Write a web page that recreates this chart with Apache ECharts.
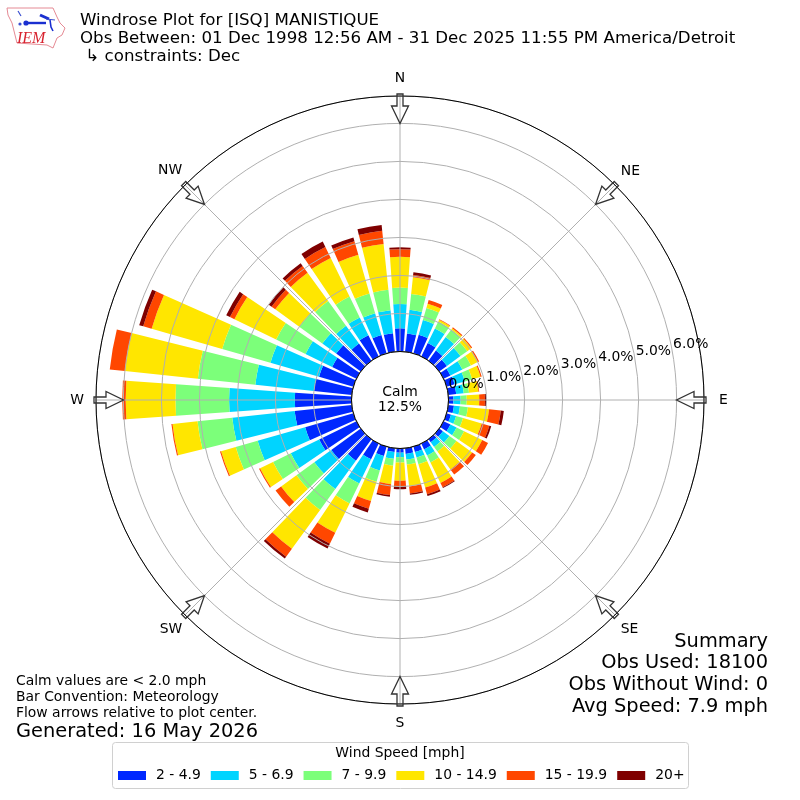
<!DOCTYPE html>
<html><head><meta charset="utf-8">
<script src="https://cdn.jsdelivr.net/npm/echarts@6/dist/echarts.min.js"></script>
<style>html,body{margin:0;padding:0;background:#fff}#c{width:800px;height:800px}</style>
</head><body><div id="c"></div>
<script>
const directions = ['0','10','20','30','40','50','60','70','80','90','100','110','120','130','140','150','160','170','180','190','200','210','220','230','240','250','260','270','280','290','300','310','320','330','340','350'];
const speedBins = ['2 - 4.9','5 - 6.9','7 - 9.9','10 - 14.9','15 - 19.9','20+'];
const binColors = ['#0028ff','#00d4ff','#7cff7a','#ffe600','#ff4700','#7f0000'];
const speed2to5 = [.61,.48,.51,.39,.33,.25,.20,.22,.21,.13,.15,.12,.20,.12,.10,.17,.15,.15,.11,.10,.26,.46,.70,.96,1.09,1.32,1.51,1.49,1.00,.94,.71,.80,.56,.62,.50,.49];
const speed5to7 = [.64,.63,.40,.43,.44,.44,.35,.28,.20,.19,.16,.14,.18,.21,.15,.18,.15,.15,.12,.18,.39,.71,.92,.55,.83,1.30,1.65,1.73,1.55,1.33,.78,.45,.58,.52,.60,.61];
const speed7to10 = [.43,.42,.33,.20,.25,.22,.25,.20,.14,.16,.21,.19,.22,.23,.15,.20,.18,.13,.14,.18,.31,.58,.68,.58,.52,.60,.92,1.41,1.52,1.32,.86,.75,.80,.61,.54,.54];
const speed10to15 = [.81,.44,.12,.05,.04,.13,.20,.23,.25,.33,.56,.51,.53,.51,.58,.60,.64,.58,.48,.49,.53,.86,1.26,.50,.38,.40,.66,1.31,1.93,1.93,1.22,.78,.92,1.13,1.06,1.21];
const speed15to20 = [.20,.06,.10,.02,.03,.03,.04,.03,.02,.15,.31,.21,.17,.12,.17,.13,.18,.19,.15,.29,.21,.32,.26,.18,.03,.03,.03,.09,.40,.23,.13,.12,.22,.32,.37,.35];
const speed20plus = [.05,.07,0,0,0,0,0,0,0,.03,.08,.05,0,0,0,.02,.05,.03,.07,.04,.10,.14,.06,0,0,0,0,0,0,.11,.11,.09,.09,.16,.10,.15];
const binValues = [speed2to5,speed5to7,speed7to10,speed10to15,speed15to20,speed20plus];
const compassLabels = {0:'N',45:'NE',90:'E',135:'SE',180:'S',225:'SW',270:'W',315:'NW'};
const titleLines = ['Windrose Plot for [ISQ] MANISTIQUE','Obs Between: 01 Dec 1998 12:56 AM - 31 Dec 2025 11:55 PM America/Detroit',' ↳ constraints: Dec'];
const summaryLines = ['Summary','Obs Used: 18100','Obs Without Wind: 0','Avg Speed: 7.9 mph'];
const noteLines = ['Calm values are < 2.0 mph','Bar Convention: Meteorology','Flow arrows relative to plot center.'];
const generated = 'Generated: 16 May 2026';
const calmLines = 'Calm\n12.5%';
const radialMax = 6.72;

const F = 'DejaVu Sans';
const CX = 400, CY = 400, R0 = 48.5, R1 = 304;
const txt = (x,y,text,size,align) => ({type:'text',x,y,z:20,style:{text,font:size+'px "'+F+'"',fill:'#000',align:align||'left',verticalAlign:'middle'}});

const g = [];
titleLines.forEach((t,i)=>g.push(txt(80,21+i*18,t,16.67)));
summaryLines.forEach((t,i)=>g.push(txt(768,[641.5,663,684.5,706.5][i],t,19.4,'right')));
noteLines.forEach((t,i)=>g.push(txt(16,681+i*16,t,13.9)));
g.push(txt(16,732,generated,19.4));
g.push({type:'circle',x:CX,y:CY,z:10,shape:{r:R0},style:{fill:'#fff',stroke:'#000',lineWidth:1}});
g.push({type:'text',x:CX,y:CY,z:20,style:{text:calmLines,font:'13.9px "'+F+'"',fill:'#000',align:'center',verticalAlign:'middle',lineHeight:15.5}});
Object.keys(compassLabels).forEach(a=>{
  g.push({type:'polygon',x:CX,y:CY,rotation:-a*Math.PI/180,z:12,
    shape:{points:[[-3,-306],[3,-306],[3,-294],[8.5,-294],[0,-276.5],[-8.5,-294],[-3,-294]]},
    style:{fill:'transparent',stroke:'#333',lineWidth:1.3,lineJoin:'miter'}});
});
g.push({type:'rect',x:112.5,y:742.5,z:1,shape:{width:576,height:46,r:3},style:{fill:'#fff',stroke:'#d0d0d0',lineWidth:1}});
g.push(txt(400,753.5,'Wind Speed [mph]',13.9,'center'));
// IEM logo
g.push({type:'polygon',z:5,shape:{points:[[7,8],[53,8],[57,17],[60,23],[65,28],[62,35],[57,38],[53,48],[47,45],[17,43],[15,35],[12,23],[8,15]]},style:{fill:'#fff',stroke:'#e58a94',lineWidth:1}});
g.push({type:'polyline',z:6,shape:{points:[[26,23],[46,23]]},style:{stroke:'#1a2fd0',lineWidth:2.4,fill:'none'}});
g.push({type:'polyline',z:6,shape:{points:[[18,11],[21,16]]},style:{stroke:'#3a4fd0',lineWidth:1.2,fill:'none'}});
g.push({type:'polyline',z:6,shape:{points:[[40,15],[49,19]]},style:{stroke:'#1a2fd0',lineWidth:3,fill:'none'}});
g.push({type:'polyline',z:6,shape:{points:[[46,19],[55,20]]},style:{stroke:'#3a4fd0',lineWidth:1,fill:'none'}});
g.push({type:'polyline',z:6,shape:{points:[[50,20],[51,27],[53,31]]},style:{stroke:'#1a2fd0',lineWidth:1.6,fill:'none'}});
g.push({type:'circle',x:26,y:23,z:6,shape:{r:2.6},style:{fill:'#1a2fd0'}});
g.push({type:'circle',x:20,y:24,z:6,shape:{r:1.6},style:{fill:'#3a4fd0'}});
g.push({type:'text',x:17,y:38.5,z:6,style:{text:'IEM',font:'italic 16px "Liberation Serif"',fill:'#d8232f',align:'left',verticalAlign:'middle'}});

const compassRich = {
  d0:{padding:[0,0,7,0]}, d45:{padding:[0,0,4,3]}, d90:{padding:[0,0,0,11]}, d135:{padding:[5,0,0,3]},
  d180:{padding:[8,0,0,0]}, d225:{padding:[5,0,0,0]}, d270:{padding:[0,8,0,0]}, d315:{padding:[0,0,5,0]}
};
const chart = echarts.init(document.getElementById('c'),null,{renderer:'canvas'});
chart.setOption({
  animation:false,
  backgroundColor:'#fff',
  textStyle:{fontFamily:F},
  polar:[{center:[CX,CY],radius:[R0,R1]},{center:[CX,CY],radius:[R0,R1]},{center:[CX,CY],radius:[R0,R1]}],
  angleAxis:[
    {polarIndex:0,type:'category',data:directions,startAngle:95,clockwise:true,boundaryGap:true,
     axisLine:{show:false},axisTick:{show:false},axisLabel:{show:false},splitLine:{show:false}},
    {polarIndex:1,type:'value',min:0,max:360,interval:45,startAngle:90,clockwise:true,z:6,
     axisLine:{show:true,lineStyle:{color:'#000',width:1}},axisTick:{show:false},
     axisLabel:{show:true,margin:4,fontFamily:F,fontSize:13.9,color:'#000',rich:compassRich,
       formatter:v=>compassLabels[v]?('{d'+v+'|'+compassLabels[v]+'}'):''},
     splitLine:{show:true,lineStyle:{color:'#b0b0b0',width:1}}},
    {polarIndex:2,type:'value',min:0,max:360,startAngle:10,clockwise:true,
     axisLine:{show:false},axisTick:{show:false},axisLabel:{show:false},splitLine:{show:false}}
  ],
  radiusAxis:[
    {polarIndex:0,type:'value',min:0,max:radialMax,axisLine:{show:false},axisTick:{show:false},axisLabel:{show:false},splitLine:{show:false}},
    {polarIndex:1,type:'value',min:0,max:radialMax,interval:1,z:5,
     axisLine:{show:false},axisTick:{show:false},axisLabel:{show:false},
     splitLine:{show:true,lineStyle:{color:'#b0b0b0',width:1}}},
    {polarIndex:2,type:'value',min:0,max:radialMax,interval:1,z:15,
     axisLine:{show:false},axisTick:{show:false},splitLine:{show:false},
     axisLabel:{show:true,margin:7.5,rotate:0,showMaxLabel:false,align:'left',verticalAlign:'middle',padding:[2,0,0,2],fontFamily:F,fontSize:13.9,color:'#000',formatter:v=>v.toFixed(1)+'%'}}
  ],
  legend:{show:true,left:113,top:763.5,orient:'horizontal',itemWidth:28,itemHeight:9,itemGap:10,selectedMode:false,
    icon:'rect',data:speedBins,textStyle:{fontFamily:F,fontSize:13.9,color:'#000',padding:[0,0,0,5]}},
  series:speedBins.map((name,i)=>({
    name,type:'bar',coordinateSystem:'polar',polarIndex:0,stack:'wind',barWidth:'80%',
    data:binValues[i],itemStyle:{color:binColors[i]},silent:true
  })),
  graphic:{elements:g}
});
</script></body></html>
